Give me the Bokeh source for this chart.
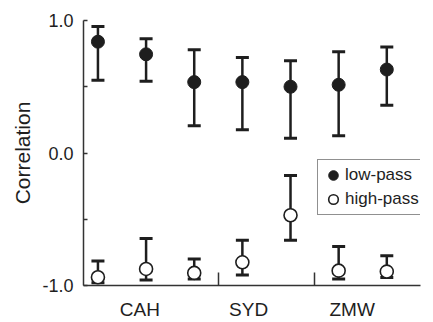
from bokeh.plotting import figure
from bokeh.models import (ColumnDataSource, Range1d, FixedTicker, Whisker, TeeHead,
                          Legend, LegendItem)
from bokeh.embed import file_html
from bokeh.resources import INLINE

# ---- data ----
groups = ["CAH", "SYD", "ZMW"]
group_sizes = [3, 2, 2]
group_label_pos = [1.87, 4.13, 6.28]

low_mean = [0.84, 0.745, 0.535, 0.535, 0.50, 0.515, 0.63]
low_upper = [0.955, 0.862, 0.78, 0.72, 0.697, 0.765, 0.80]
low_lower = [0.55, 0.542, 0.205, 0.175, 0.112, 0.13, 0.36]

high_mean = [-0.938, -0.875, -0.905, -0.825, -0.47, -0.888, -0.895]
high_upper = [-0.815, -0.645, -0.80, -0.658, -0.17, -0.705, -0.775]
high_lower = [-0.98, -0.958, -0.95, -0.92, -0.658, -0.95, -0.94]

y_ticks = [-1.0, 0.0, 1.0]
y_minor = [-0.5, 0.5]
y_tick_labels = ["-1.0", "0.0", "1.0"]

# ---- derived ----
xs = list(range(1, sum(group_sizes) + 1))
bounds = []
acc = 0
for s in group_sizes[:-1]:
    acc += s
    bounds.append(acc + 0.5)

INK = "#1e1e1e"
FONT = "Liberation Sans"

p = figure(width=433, height=322, output_backend="svg", toolbar_location=None,
           x_range=Range1d(0.7, 7.7), y_range=Range1d(-1.0, 1.0),
           min_border_left=83, min_border_right=13, min_border_top=20, min_border_bottom=35)
p.outline_line_color = None
p.grid.visible = False
p.background_fill_color = "white"

# axes
p.xaxis.ticker = FixedTicker(ticks=group_label_pos, minor_ticks=bounds)
p.xaxis.major_label_overrides = {pos: g for pos, g in zip(group_label_pos, groups)}
p.xaxis.major_tick_in = 0
p.xaxis.major_tick_out = 0
p.xaxis.minor_tick_in = 13
p.xaxis.minor_tick_out = 0
p.xaxis.minor_tick_line_width = 1.5
p.xaxis.minor_tick_line_color = "#333333"
p.xaxis.major_label_standoff = 13
p.xaxis.major_label_text_font = FONT
p.xaxis.major_label_text_font_size = "19px"
p.xaxis.major_label_text_color = INK

p.yaxis.ticker = FixedTicker(ticks=y_ticks, minor_ticks=y_minor)
p.yaxis.major_label_overrides = {t: l for t, l in zip(y_ticks, y_tick_labels)}
p.yaxis.major_tick_in = 4
p.yaxis.major_tick_out = 0
p.yaxis.minor_tick_in = 4
p.yaxis.minor_tick_out = 0
p.yaxis.major_tick_line_width = 1.5
p.yaxis.minor_tick_line_width = 1.5
p.yaxis.major_tick_line_color = "#333333"
p.yaxis.minor_tick_line_color = "#333333"
p.yaxis.major_label_standoff = 10
p.yaxis.major_label_text_font = FONT
p.yaxis.major_label_text_font_size = "18px"
p.yaxis.major_label_text_color = INK
p.yaxis.axis_label = "Correlation"
p.yaxis.axis_label_text_font = FONT
p.yaxis.axis_label_text_font_size = "21px"
p.yaxis.axis_label_text_font_style = "normal"
p.yaxis.axis_label_text_color = INK
p.yaxis.axis_label_standoff = 5

for ax in (p.xaxis, p.yaxis):
    ax.axis_line_color = "#333333"
    ax.axis_line_width = 1.5

# error bars
src_low = ColumnDataSource(dict(x=xs, m=low_mean, u=low_upper, l=low_lower))
src_high = ColumnDataSource(dict(x=xs, m=high_mean, u=high_upper, l=high_lower))

for src in (src_low, src_high):
    w = Whisker(source=src, base="x", upper="u", lower="l",
                line_color=INK, line_width=2.5, level="underlay",
                upper_head=TeeHead(size=13, line_color=INK, line_width=3),
                lower_head=TeeHead(size=13, line_color=INK, line_width=3))
    p.add_layout(w)

r_low = p.scatter("x", "m", source=src_low, size=13, fill_color=INK, line_color=INK,
                  line_width=1)
r_high = p.scatter("x", "m", source=src_high, size=13, fill_color="white", line_color=INK,
                   line_width=1.6)

legend = Legend(items=[LegendItem(label="low-pass", renderers=[r_low]),
                       LegendItem(label="high-pass", renderers=[r_high])],
                location=(234, 70), padding=3, spacing=0, margin=0,
                glyph_width=24, glyph_height=24, label_height=24, label_standoff=0,
                label_text_font=FONT, label_text_font_size="17px", label_text_color=INK,
                border_line_color="#222222", border_line_width=1,
                background_fill_color="white", background_fill_alpha=1)
p.add_layout(legend)

open("out.html", "w").write(file_html(p, INLINE))
